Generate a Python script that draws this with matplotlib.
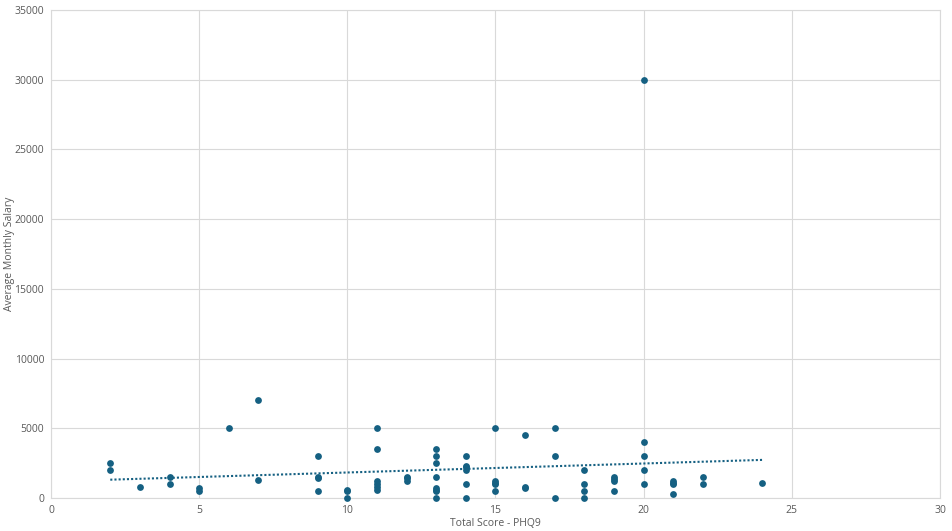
import numpy as np
import matplotlib
matplotlib.use("Agg")
import matplotlib.pyplot as plt

# Data
phq9_scores = [2, 2, 3, 4, 4, 5, 5, 6, 7, 7,
               9, 9, 9, 9, 10, 10, 10,
               11, 11, 11, 11, 11, 11,
               12, 12, 12,
               13, 13, 13, 13, 13, 13, 13, 13,
               14, 14, 14, 14, 14, 14,
               15, 15, 15, 15, 15,
               16, 16, 16,
               17, 17, 17,
               18, 18, 18, 18,
               19, 19, 19, 19,
               20, 20, 20, 20, 20,
               21, 21, 21, 21,
               22, 22,
               24]
salaries = [2500, 2000, 800, 1500, 1000, 750, 500, 5000, 7000, 1300,
            3000, 1500, 1400, 500, 600, 500, 0,
            5000, 3500, 1200, 1000, 800, 600,
            1500, 1400, 1250,
            3500, 3000, 2500, 1500, 750, 600, 500, 0,
            3000, 2300, 2200, 2000, 1000, 0,
            5000, 1200, 1100, 1000, 500,
            4500, 800, 700,
            5000, 3000, 0,
            2000, 1000, 500, 0,
            1500, 1350, 1200, 500,
            30000, 4000, 3000, 2000, 1000,
            1200, 1100, 1000, 300,
            1500, 1000,
            1100]

x_ticks = [0, 5, 10, 15, 20, 25, 30]
y_ticks = [0, 5000, 10000, 15000, 20000, 25000, 30000, 35000]

color = "#156082"
text_color = "#595959"
grid_color = "#d9d9d9"

plt.rcParams['font.family'] = ['Open Sans', 'DejaVu Sans']

fig = plt.figure(figsize=(9.53, 5.31), dpi=100)
ax = fig.add_axes([51/953, 1 - 498/531, (940-51)/953, (498-10)/531])

x = np.array(phq9_scores, dtype=float)
y = np.array(salaries, dtype=float)
ax.scatter(x, y, s=24, color=color, zorder=3, linewidths=0, clip_on=False)

# linear trendline
m, b = np.polyfit(x, y, 1)
xt = np.array([x.min(), x.max()])
ax.plot(xt, m * xt + b, linestyle=(0, (1, 1)), color=color, linewidth=1.5, zorder=2)

ax.set_xlim(0, 30)
ax.set_ylim(0, 35000)
ax.set_xticks(x_ticks)
ax.set_yticks(y_ticks)
ax.grid(True, color=grid_color, linewidth=0.8, zorder=0)
ax.set_axisbelow(True)
for s in ax.spines.values():
    s.set_color(grid_color)
    s.set_linewidth(0.8)
ax.tick_params(length=0, colors=text_color, labelsize=7.5, pad=5)
xl = ax.set_xlabel("Total Score - PHQ9", color=text_color, fontsize=7.5)
yl = ax.set_ylabel("Average Monthly Salary", color=text_color, fontsize=7.5)
xl.set_va('center')
yl.set_va('center')
ax.xaxis.set_label_coords(0.5, -(523 - 498) / 488)
ax.yaxis.set_label_coords(-(51 - 10) / 889, 0.5)

fig.savefig("out.png", dpi=100)
